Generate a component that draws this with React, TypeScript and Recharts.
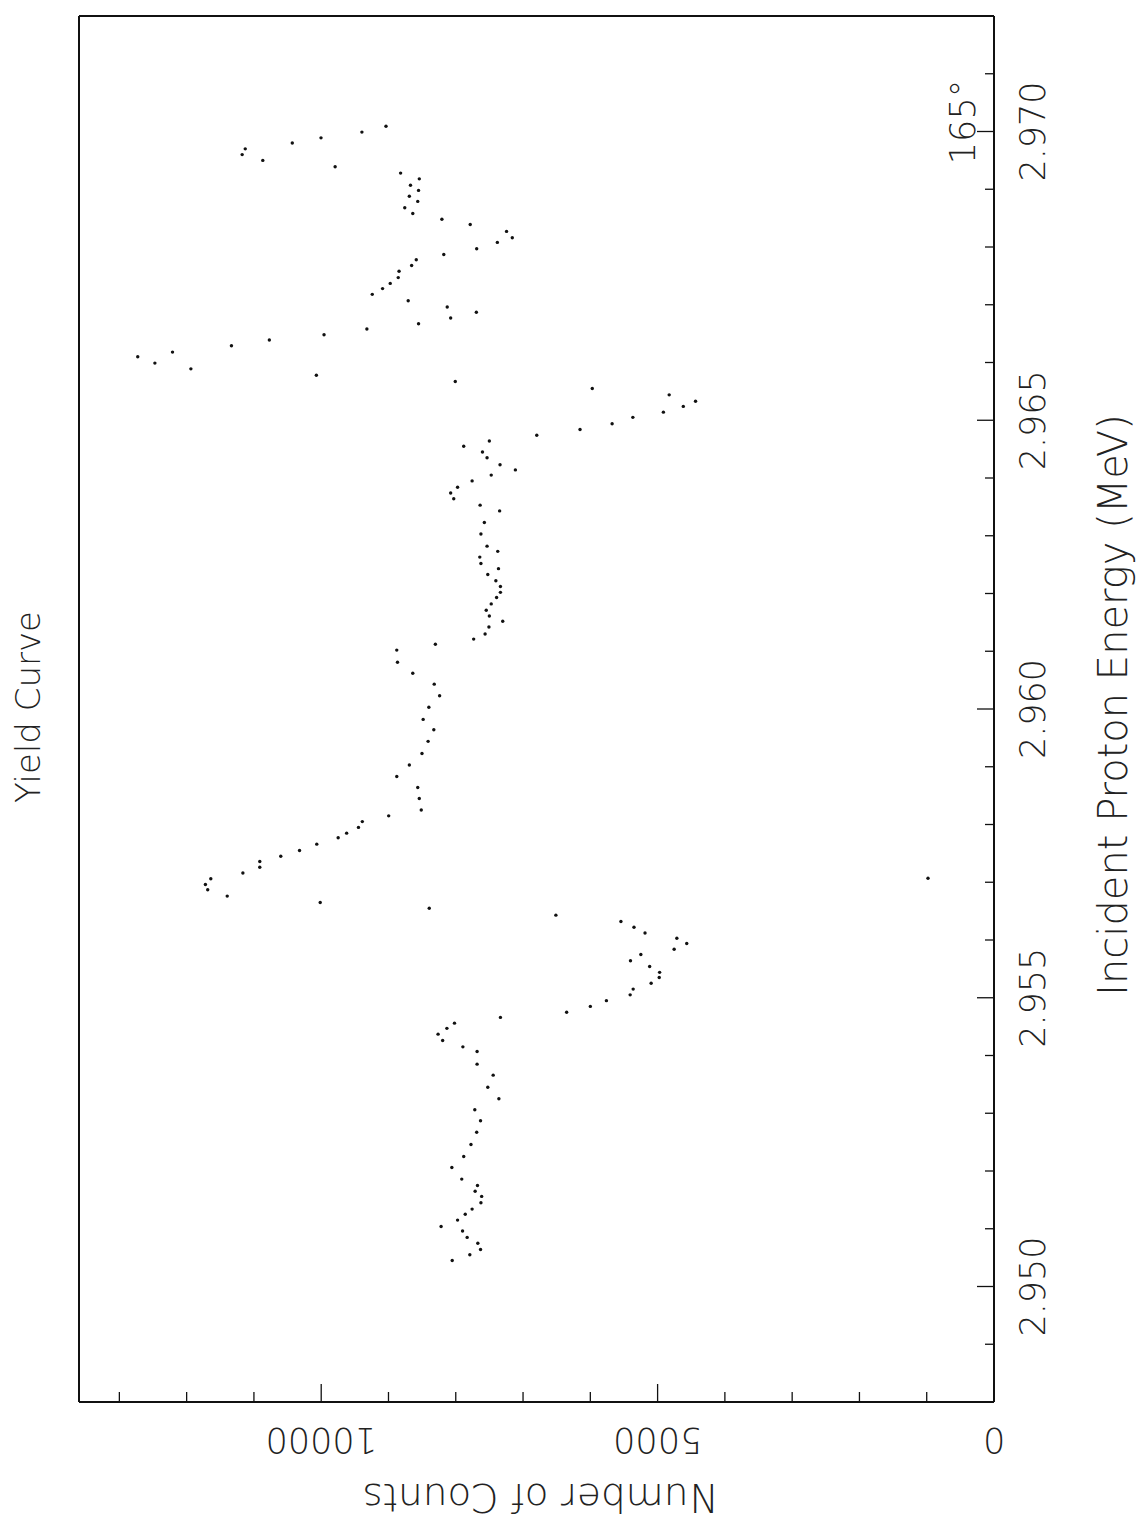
import { ScatterChart, Scatter, XAxis, YAxis, Label } from 'recharts';

// Yield curve at 165 degrees: counts versus incident proton energy.
// Values in MeV and raw counts.
const energy = [
  2.97009, 2.96999, 2.96989, 2.9698, 2.9697, 2.9696, 2.9695, 2.96939, 2.96928, 2.96918,
  2.96907, 2.96898, 2.96888, 2.96879, 2.96868, 2.96858, 2.96848, 2.96839, 2.96827, 2.96816,
  2.96808, 2.96797, 2.96787, 2.96778, 2.96768, 2.96758, 2.96747, 2.96737, 2.96728, 2.96718,
  2.96707, 2.96696, 2.96687, 2.96677, 2.96667, 2.96658, 2.96648, 2.96639, 2.96629, 2.96618,
  2.9661, 2.96599, 2.96589, 2.96578, 2.96567, 2.96555, 2.96544, 2.96533, 2.96524, 2.96514,
  2.96505, 2.96494, 2.96484, 2.96474, 2.96464, 2.96455, 2.96445, 2.96435, 2.96423, 2.96414,
  2.96405, 2.96395, 2.96384, 2.96374, 2.96364, 2.96353, 2.96343, 2.96323, 2.96303, 2.96282,
  2.96273, 2.96263, 2.96252, 2.96243, 2.96233, 2.96222, 2.96212, 2.96202, 2.96193, 2.96182,
  2.96171, 2.96161, 2.96152, 2.96142, 2.9613, 2.96121, 2.96112, 2.96102, 2.96081, 2.96062,
  2.96043, 2.96023, 2.96003, 2.95982, 2.95964, 2.95944, 2.95923, 2.95903, 2.95883, 2.95864,
  2.95845, 2.95825, 2.95815, 2.95805, 2.95795, 2.95785, 2.95777, 2.95766, 2.95755, 2.95745,
  2.95736, 2.95726, 2.95716, 2.95706, 2.95696, 2.95687, 2.95676, 2.95665, 2.95655, 2.95643,
  2.95632, 2.95622, 2.95612, 2.95603, 2.95594, 2.95584, 2.95575, 2.95564, 2.95554, 2.95544,
  2.95535, 2.95525, 2.95515, 2.95505, 2.95495, 2.95485, 2.95475, 2.95466, 2.95456, 2.95447,
  2.95437, 2.95426, 2.95415, 2.95407, 2.95385, 2.95366, 2.95345, 2.95325, 2.95306, 2.95287,
  2.95267, 2.95246, 2.95225, 2.95206, 2.95186, 2.95175, 2.95165, 2.95156, 2.95145, 2.95134,
  2.95125, 2.95115, 2.95104, 2.95096, 2.95085, 2.95075, 2.95064, 2.95055, 2.95045, 2.95707,
];

const counts = [
  9037, 9395, 10003, 10430, 11129, 11175, 10868, 9793, 8820, 8542,
  8673, 8553, 8690, 8565, 8758, 8639, 8206, 7785, 7245, 7160,
  7382, 7689, 8178, 8587, 8656, 8843, 8855, 8974, 9088, 9241,
  8707, 8127, 7694, 8076, 8553, 9321, 9958, 10771, 11334, 12210,
  12727, 12472, 11937, 10072, 8007, 5971, 4828, 4436, 4618, 4914,
  5368, 5676, 6153, 6796, 7501, 7882, 7603, 7535, 7342, 7114,
  7473, 7757, 7973, 8076, 8030, 7638, 7348, 7575, 7626, 7535,
  7376, 7643, 7626, 7365, 7524, 7404, 7336, 7336, 7393, 7473,
  7547, 7501, 7302, 7507, 7564, 7734, 8303, 8877, 8866, 8639,
  8320, 8240, 8400, 8485, 8326, 8411, 8502, 8690, 8877, 8565,
  8542, 8513, 8997, 9389, 9446, 9622, 9748, 10066, 10322, 10601,
  10913, 10913, 11164, 11641, 11721, 11687, 11397, 10015, 8394, 6512,
  5545, 5351, 5187, 4714, 4567, 4754, 5249, 5403, 5118, 4970,
  4976, 5096, 5363, 5408, 5761, 6000, 6352, 7336, 8019, 8132,
  8263, 8195, 7894, 7683, 7683, 7444, 7524, 7359, 7717, 7632,
  7689, 7774, 7882, 8058, 7911, 7677, 7712, 7615, 7626, 7757,
  7859, 7973, 8218, 7899, 7831, 7672, 7632, 7791, 8053, 981,
];

const energyTicks = [
  2.948, 2.949, 2.95, 2.951, 2.952, 2.953, 2.954, 2.955, 2.956, 2.957, 2.958, 2.959, 2.96,
  2.961, 2.962, 2.963, 2.964, 2.965, 2.966, 2.967, 2.968, 2.969, 2.97, 2.971, 2.972,
];
const energyLabels = ['2.950', '2.955', '2.960', '2.965', '2.970'];

const countTicks = [0, 1000, 2000, 3000, 4000, 5000, 6000, 7000, 8000, 9000, 10000, 11000, 12000, 13000];
const countLabels = ['0', '5000', '10000'];

const points = energy.map((e, i) => ({ energy: e, counts: counts[i] }));

const W = 1145;
const H = 1524;
const FONT = '"DejaVu Sans", Verdana, sans-serif';
const INK = '#111';
const TEXT_INK = '#222';

const energyText = (v: number) => v.toFixed(3);
const isMajorEnergy = (v: number) => Math.round(v * 1000) % 5 === 0;
const isMajorCount = (v: number) => v % 5000 === 0;

function rotatedText(text: string, cx: number, cy: number, angle: number, size: number) {
  return (
    <text
      x={cx}
      y={cy}
      transform={`rotate(${angle} ${cx} ${cy})`}
      textAnchor="middle"
      dominantBaseline="central"
      fontFamily={FONT}
      fontWeight={200}
      fontSize={size}
      fill={TEXT_INK}
    >
      {text}
    </text>
  );
}

function CountTickBottom({ x, y, payload }: any) {
  const v = payload.value as number;
  const major = isMajorCount(v);
  const label = String(v);
  return (
    <g>
      <line x1={x} y1={y} x2={x} y2={y - (major ? 18 : 10)} stroke={INK} strokeWidth={1.3} />
      {countLabels.includes(label) && rotatedText(label, x, y + 38, 180, 35)}
    </g>
  );
}

function CountTickTop({ x, y, payload }: any) {
  const major = isMajorCount(payload.value);
  return <line x1={x} y1={y} x2={x} y2={y + (major ? 17 : 8)} stroke={INK} strokeWidth={1.3} />;
}

function EnergyTickRight({ x, y, payload }: any) {
  const v = payload.value as number;
  const label = energyText(v);
  const major = isMajorEnergy(v);
  return (
    <g>
      <line x1={x} y1={y} x2={x - (major ? 17 : 9)} y2={y} stroke={INK} strokeWidth={1.3} />
      {energyLabels.includes(label) && rotatedText(label, x + 39, y, -90, 35)}
    </g>
  );
}

function EnergyTickLeft({ x, y }: any) {
  return <line x1={x} y1={y} x2={x + 5} y2={y} stroke={INK} strokeWidth={1.3} />;
}

const Dot = ({ cx, cy }: any) => <circle cx={cx} cy={cy} r={1.7} fill={INK} />;

export default function App() {
  return (
    <div style={{ position: 'absolute', left: 0, top: 0, width: W, height: H, background: '#fff' }}>
      <ScatterChart width={W} height={H} margin={{ top: 15, right: 150, bottom: 121, left: 78 }}>
        <XAxis
          xAxisId="counts"
          type="number"
          dataKey="counts"
          domain={[0, 13600]}
          ticks={countTicks}
          reversed
          orientation="bottom"
          height={1}
          tickSize={0}
          tickMargin={0}
          tick={<CountTickBottom />}
          axisLine={{ stroke: INK, strokeWidth: 2 }}
          tickLine={false}
          interval={0}
        >
          <Label content={() => rotatedText('Number of Counts', 540, 1497, 180, 39)} />
        </XAxis>
        <XAxis
          xAxisId="countsTop"
          type="number"
          domain={[0, 13600]}
          ticks={countTicks}
          reversed
          orientation="top"
          height={1}
          tickSize={0}
          tickMargin={0}
          tick={<CountTickTop />}
          axisLine={{ stroke: INK, strokeWidth: 2 }}
          tickLine={false}
          interval={0}
        >
          <Label content={() => rotatedText('165°', 963, 122, -90, 35)} />
        </XAxis>
        <YAxis
          yAxisId="energy"
          type="number"
          dataKey="energy"
          domain={[2.948, 2.972]}
          ticks={energyTicks}
          orientation="right"
          width={1}
          tickSize={0}
          tickMargin={0}
          tick={<EnergyTickRight />}
          axisLine={{ stroke: INK, strokeWidth: 2 }}
          tickLine={false}
          interval={0}
        >
          <Label content={() => rotatedText('Incident Proton Energy (MeV)', 1113, 705, -90, 40)} />
        </YAxis>
        <YAxis
          yAxisId="energyLeft"
          type="number"
          domain={[2.948, 2.972]}
          ticks={energyTicks}
          orientation="left"
          width={1}
          tickSize={0}
          tickMargin={0}
          tick={<EnergyTickLeft />}
          axisLine={{ stroke: INK, strokeWidth: 2 }}
          tickLine={false}
          interval={0}
        >
          <Label content={() => rotatedText('Yield Curve', 28, 707, -90, 34)} />
        </YAxis>
        <Scatter
          xAxisId="counts"
          yAxisId="energy"
          data={points}
          shape={<Dot />}
          isAnimationActive={false}
        />
      </ScatterChart>
    </div>
  );
}
